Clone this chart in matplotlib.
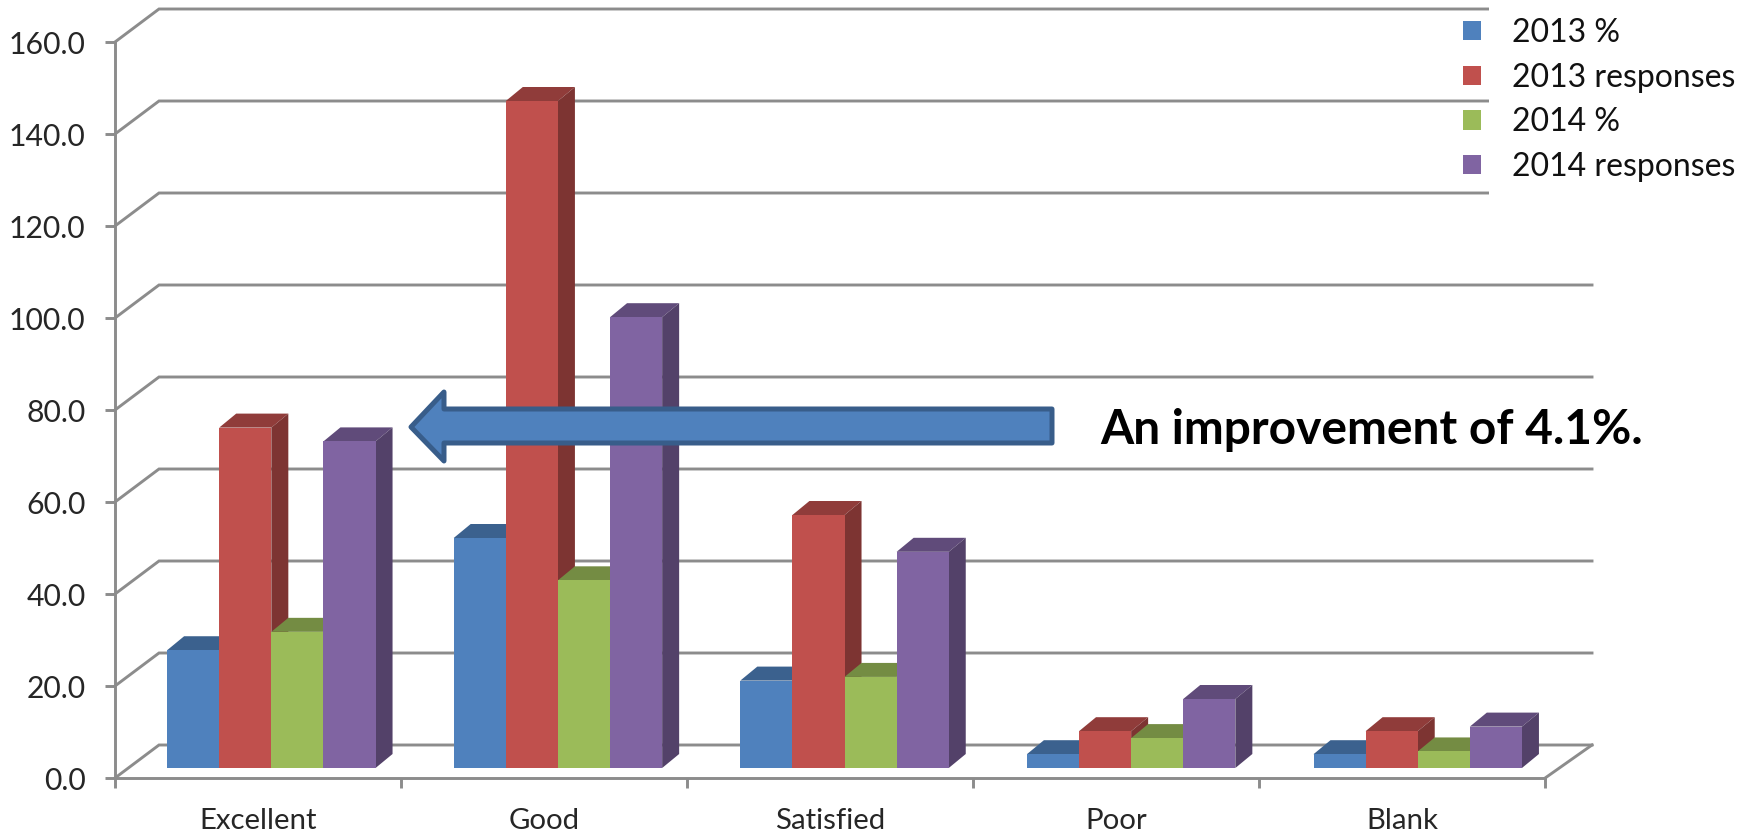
import matplotlib
matplotlib.use("Agg")
import matplotlib.pyplot as plt
from matplotlib.patches import Polygon, Rectangle
from matplotlib.colors import to_rgb

categories = ["Excellent", "Good", "Satisfied", "Poor", "Blank"]
series_names = ["2013 %", "2013 responses", "2014 %", "2014 responses"]
pct_2013 = [25.6, 50, 19, 3, 3]
resp_2013 = [74, 145, 55, 8, 8]
pct_2014 = [29.6, 40.8, 19.8, 6.5, 3.6]
resp_2014 = [71, 98, 47, 15, 9]
yticks = [0, 20, 40, 60, 80, 100, 120, 140, 160]

colors = ["#4F81BD", "#C0504D", "#9BBB59", "#8064A2"]
grid_color = "#8C8C8C"
text_color = "#262626"

W, H = 1742, 834
PX_X = 286.6   # pixels per category
PX_Y = 4.6     # pixels per value unit
X0, Y0 = 115, 778

# fake 3d offsets, in data units
wall_dx = 44 / PX_X
wall_dy = 33 / PX_Y
side_dx = 17 / PX_X
side_dy = 14 / PX_Y
base = 10 / PX_Y
bar_w = 1 / 5.5
axis_end = 4.99   # front edge of the floor stops a little short

plt.rcParams["font.family"] = ["Lato", "DejaVu Sans"]

fig = plt.figure(figsize=(W / 100, H / 100), dpi=100, facecolor="white")
ax = fig.add_axes([0, 0, 1, 1])
ax.set_xlim(-X0 / PX_X, (W - X0) / PX_X)
ax.set_ylim(-(H - Y0) / PX_Y, Y0 / PX_Y)


def shade(c, f):
    return tuple(v * f for v in to_rgb(c))


# back wall and floor lines
for v in yticks:
    ax.plot([0, wall_dx, 5 + wall_dx], [v, v + wall_dy, v + wall_dy],
            color=grid_color, lw=2.1, zorder=1, solid_joinstyle="miter")
ax.plot([axis_end, 5 + wall_dx], [0, wall_dy], color=grid_color, lw=2.1, zorder=1)

# legend area hides the ends of the upper lines
ax.add_patch(Rectangle(((1489 - X0) / PX_X, (Y0 - 215) / PX_Y), 260 / PX_X, 215 / PX_Y,
                       facecolor="white", edgecolor="none", zorder=2))

# bars, left to right so each one covers the side of the previous one
handles = []
for s, values in enumerate([pct_2013, resp_2013, pct_2014, resp_2014]):
    xs = [i + bar_w * (1 + s) for i in range(len(categories))]
    for x, v in zip(xs, values):
        top = base + v
        z_s = 3 + s * 3
        ax.add_patch(Polygon([(x, top), (x + side_dx, top + side_dy),
                              (x + bar_w + side_dx, top + side_dy), (x + bar_w, top)],
                             facecolor=shade(colors[s], 0.75), edgecolor="none", zorder=z_s))
        ax.add_patch(Polygon([(x + bar_w, base), (x + bar_w + side_dx, base + side_dy),
                              (x + bar_w + side_dx, top + side_dy), (x + bar_w, top)],
                             facecolor=shade(colors[s], 0.65), edgecolor="none", zorder=z_s + 1))
    b = ax.bar(xs, values, width=bar_w, bottom=base, align="edge", color=colors[s],
               zorder=3 + s * 3 + 2, label=series_names[s])
    handles.append(b)

# axes
for name in ["top", "right"]:
    ax.spines[name].set_visible(False)
ax.spines["left"].set_position(("data", 0))
ax.spines["bottom"].set_position(("data", 0))
ax.spines["left"].set_bounds(0, 160)
ax.spines["bottom"].set_bounds(0, axis_end)
for name in ["left", "bottom"]:
    ax.spines[name].set_color(grid_color)
    ax.spines[name].set_linewidth(2.1)
    ax.spines[name].set_zorder(2)

ax.set_yticks(yticks)
ax.set_yticklabels(["%.1f" % v for v in yticks])
ax.tick_params(axis="y", length=7.2, width=2.1, color=grid_color, pad=14,
               labelsize=21.7, labelcolor=text_color)
ax.set_xticks([i * axis_end / 5 for i in range(6)])
ax.set_xticklabels([])
ax.tick_params(axis="x", which="major", length=7.2, width=2.1, color=grid_color)
ax.set_xticks([(i + 0.5) * axis_end / 5 for i in range(5)], minor=True)
ax.set_xticklabels(categories, minor=True)
ax.tick_params(axis="x", which="minor", length=0, pad=21.5, labelsize=21.2, labelcolor=text_color)

leg = ax.legend(handles, series_names, loc="upper left", frameon=False, fontsize=23,
                bbox_to_anchor=(1456 / W, 1 - 10.5 / H), borderaxespad=0, borderpad=0.23,
                handlelength=0.56, handleheight=0.56, handletextpad=0.95,
                labelspacing=0.46, labelcolor="#111111")
leg.set_zorder(30)

# callout arrow and its text
arrow_px = [(411, 427), (444, 392), (444, 409), (1052, 409), (1052, 443),
            (444, 443), (444, 461)]
arrow_pts = [(x / W, 1 - y / H) for x, y in arrow_px]
fig.add_artist(Polygon(arrow_pts, closed=True, transform=fig.transFigure, facecolor="#4F81BD",
                       edgecolor="#385D8A", lw=3.6, joinstyle="round", zorder=40))
fig.text(1100 / W, 1 - 430 / H, "An improvement of 4.1%.", fontsize=34.5, fontweight="bold",
         color="black", va="center", ha="left", zorder=41)

fig.savefig("out.png", dpi=100)
